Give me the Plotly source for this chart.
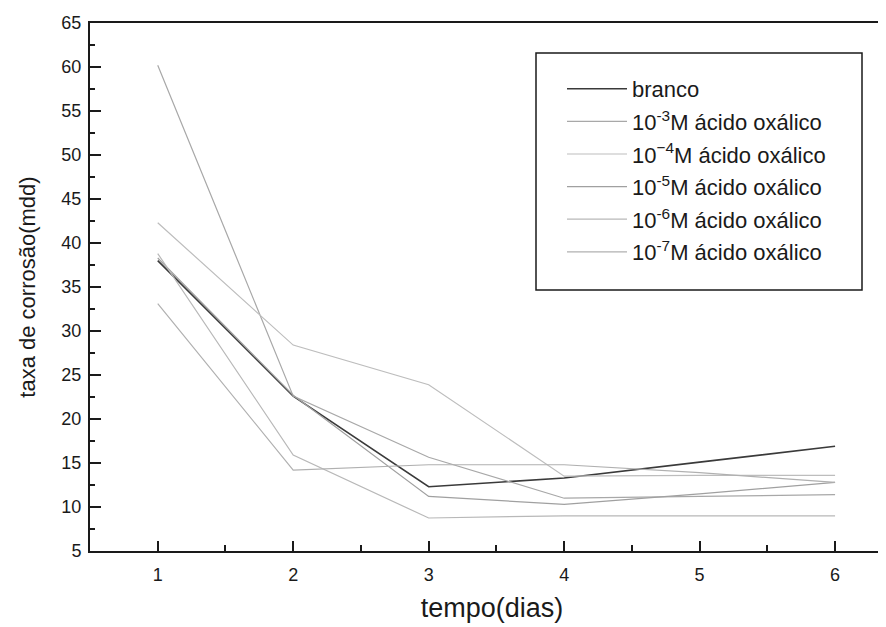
import plotly.graph_objects as go

days = [1, 2, 3, 4, 5, 6]
branco = [38.0, 22.6, 12.3, 13.3, 15.1, 16.9]
m1e3 = [60.2, 22.6, 15.65, 11.0, 11.2, 11.4]
m1e4 = [42.3, 28.4, 23.9, 13.5, 13.6, 13.6]
m1e5 = [38.3, 22.7, 11.2, 10.3, 11.5, 12.8]
m1e6 = [38.8, 15.9, 8.75, 9.0, 9.0, 9.0]
m1e7 = [33.1, 14.2, 14.8, 14.8, 13.9, 12.8]

names = ["branco",
         "10<sup>-3</sup>M ácido oxálico",
         "10<sup>−4</sup>M ácido oxálico",
         "10<sup>-5</sup>M ácido oxálico",
         "10<sup>-6</sup>M ácido oxálico",
         "10<sup>-7</sup>M ácido oxálico"]
series = [branco, m1e3, m1e4, m1e5, m1e6, m1e7]
colors = ["#3a3a3a", "#a8a8a8", "#bdbdbd", "#a0a0a0", "#b8b8b8", "#b0b0b0"]
widths = [1.6, 1.2, 1.2, 1.2, 1.2, 1.2]

fig = go.Figure()
for i, (n, s) in enumerate(zip(names, series)):
    fig.add_trace(go.Scatter(x=days, y=s, mode="lines", name=n,
                             line=dict(color=colors[i], width=widths[i]),
                             legendgroup=str(i)))

L, T, B = 82, 15, 543
W = 886 - L
H = B - T

font = "Arial, Liberation Sans, sans-serif"
fig.update_layout(
    width=886, height=627,
    margin=dict(l=L, r=0, t=T, b=627 - B),
    paper_bgcolor="white", plot_bgcolor="white",
    font=dict(family=font, color="#1a1a1a"),
    showlegend=True,
    legend=dict(x=(554 - L) / W, y=(B - 60) / H, xanchor="left", yanchor="top",
                bgcolor="rgba(0,0,0,0)", borderwidth=0,
                font=dict(size=22, family=font, color="#1a1a1a"),
                tracegroupgap=1, itemwidth=60),
    xaxis=dict(range=[0.5, 6.435], tickmode="array", tickvals=days,
               ticks="inside", ticklen=10, tickwidth=1.5, tickcolor="#1a1a1a",
               minor=dict(dtick=0.5, tick0=0.5, ticks="inside", ticklen=6,
                          tickwidth=1.5, tickcolor="#1a1a1a"),
               showline=True, linecolor="#1a1a1a", linewidth=2, mirror=True,
               showgrid=False, zeroline=False, automargin=False,
               tickfont=dict(size=18), ticklabelstandoff=6,
               title=dict(text="tempo(dias)", font=dict(size=27), standoff=15)),
    yaxis=dict(range=[5, 65], dtick=5, tick0=5,
               ticks="inside", ticklen=11, tickwidth=1.5, tickcolor="#1a1a1a",
               minor=dict(dtick=2.5, tick0=5, ticks="inside", ticklen=5,
                          tickwidth=1.5, tickcolor="#1a1a1a"),
               showline=True, linecolor="#1a1a1a", linewidth=2, mirror=False,
               showgrid=False, zeroline=False, automargin=False,
               ticklabeloverflow="allow",
               tickfont=dict(size=18), ticklabelstandoff=3,
               title=dict(text="taxa de corrosão(mdd)", font=dict(size=22), standoff=20)),
    shapes=[dict(type="rect", xref="paper", yref="paper",
                 x0=(528 - L) / W, x1=(854 - L) / W,
                 y0=(B - 282) / H, y1=(B - 45) / H,
                 line=dict(color="#1a1a1a", width=1.5))],
)

fig.write_html("out.html")
